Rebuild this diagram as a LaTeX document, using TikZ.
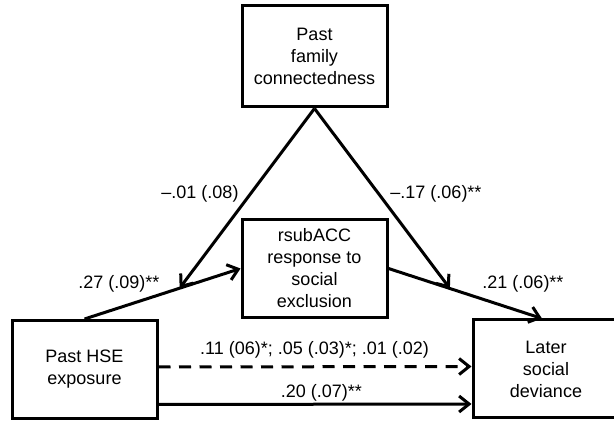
\documentclass[tikz,border=0pt]{standalone}
\usepackage{fontspec}
\setmainfont{Liberation Sans}
\usetikzlibrary{arrows.meta}

\begin{document}
\begin{tikzpicture}[x=1pt,y=1pt,
  box/.style={draw,line width=3pt,minimum width=145pt,minimum height=98pt,
    align=center,font=\fontsize{18}{22}\selectfont},
  effect/.style={line width=3pt,-{Straight Barb[length=10pt,width=16pt]}},
  coef/.style={font=\fontsize{18}{22}\selectfont,inner sep=1pt}]
\useasboundingbox (0,0) rectangle (614,423);

% Boxes
\node[box,minimum height=101pt] (fam) at (314.5,366.5) {Past\\family\\connectedness};
\node[box] (acc) at (314.5,154.5) {rsubACC\\response to\\social\\exclusion};
\node[box] (hse) at (84.5,53.5) {Past HSE\\exposure};
\node[box,minimum width=146pt] (dev) at (546,54) {Later\\social\\deviance};

% Mediation paths
\draw[effect] (hse.north) -- (acc.west) coordinate[pos=0.61] (m1);
\draw[effect] (acc.east) -- ([xshift=-4pt]dev.north) coordinate[pos=0.40] (m2);

% Moderation by family connectedness
\draw[effect] (fam.south) -- (m1);
\draw[effect] (fam.south) -- (m2);

% Direct paths
\draw[effect,dash pattern=on 12pt off 8.5pt] ([yshift=2.5pt]hse.east) -- ([yshift=2.5pt]dev.west);
\draw[effect] ([yshift=-35pt]hse.east) -- ([yshift=-35pt]dev.west);

% Labels
\node[coef] (c1) at (200,229) {–.01 (.08)};
\node[coef] (c2) at (436,229) {–.17 (.06)**};
\node[coef] (c3) at (119,139) {.27 (.09)**};
\node[coef] (c4) at (523,139) {.21 (.06)**};
\node[coef] (c5) at (314.5,73) {.11 (06)*; .05 (.03)*; .01 (.02)};
\node[coef] (c6) at (321.5,30) {.20 (.07)**};
\end{tikzpicture}
\end{document}
